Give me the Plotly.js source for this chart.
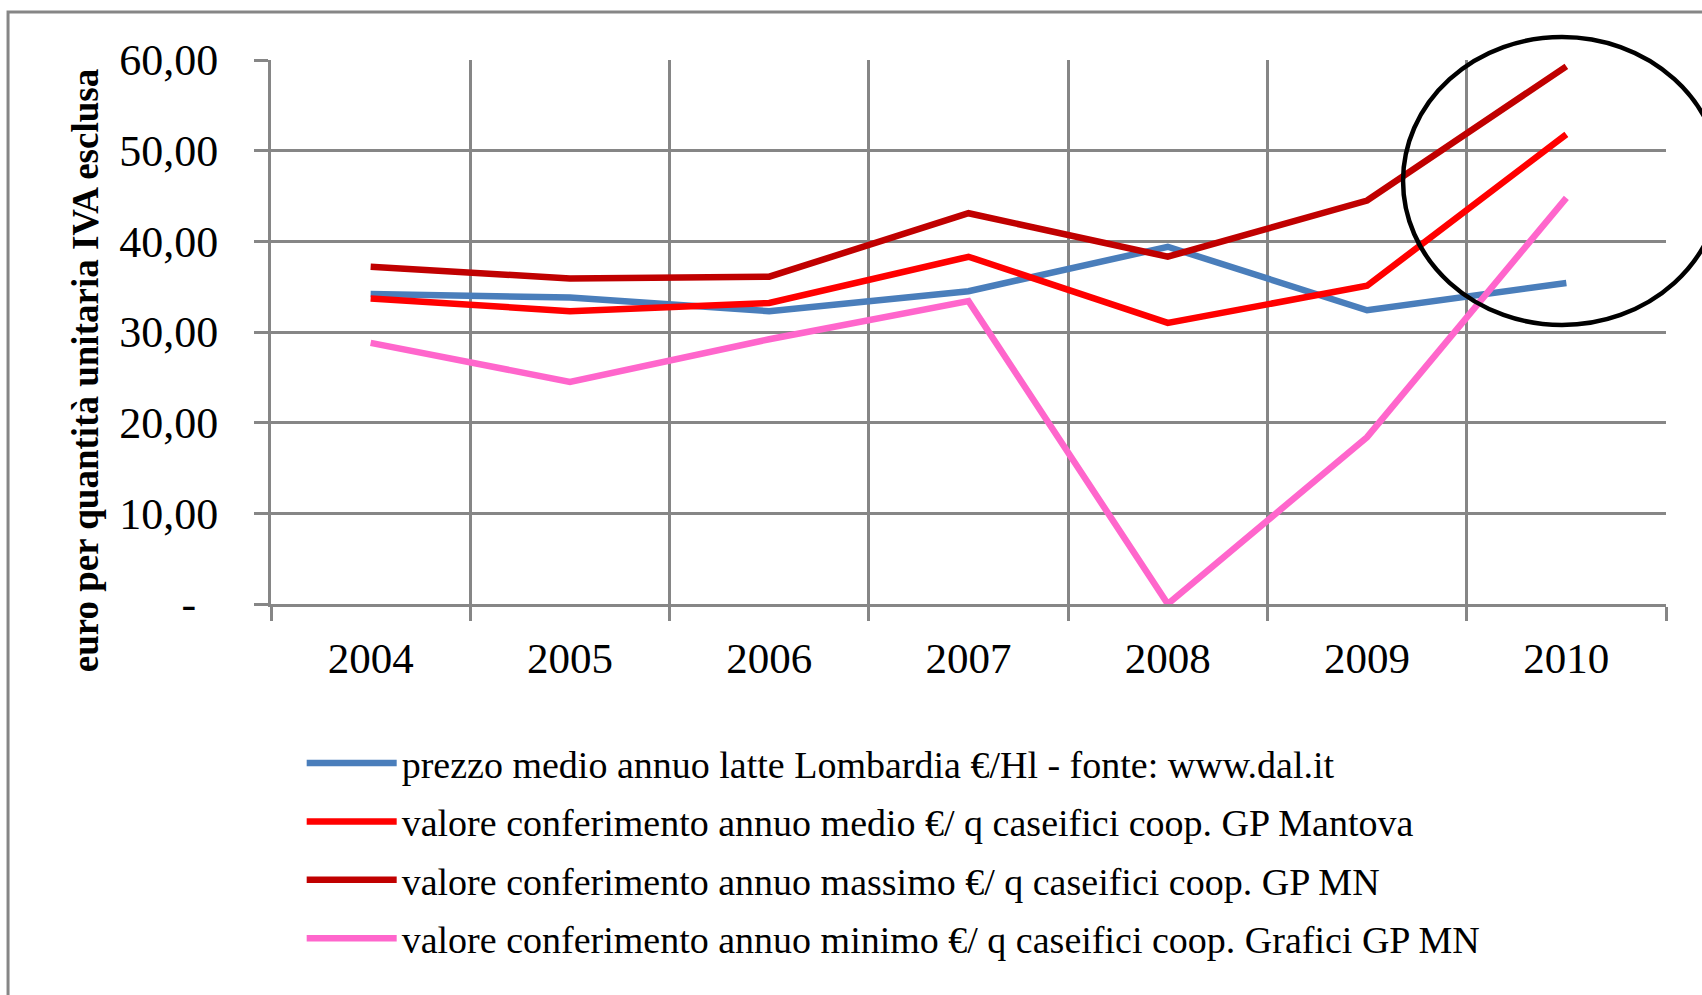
<!DOCTYPE html>
<html>
<head>
<meta charset="utf-8">
<script src="https://cdn.plot.ly/plotly-3.0.1.min.js"></script>
<style>
  html, body { margin: 0; padding: 0; background: #fff; }
  #chart { width: 1702px; height: 995px; }
</style>
</head>
<body>
<div id="chart"></div>
<script>
// ---- data ----
const years = ["2004", "2005", "2006", "2007", "2008", "2009", "2010"];
const prezzoMedioLatte = [34.2, 33.8, 32.3, 34.5, 39.4, 32.4, 35.4];
const conferimentoMedio = [33.7, 32.3, 33.2, 38.3, 31.0, 35.1, 51.8];
const conferimentoMassimo = [37.2, 35.9, 36.1, 43.1, 38.3, 44.5, 59.3];
const conferimentoMinimo = [28.8, 24.5, 29.2, 33.4, 0.0, 18.4, 44.8];

const seriesNames = [
  "prezzo medio annuo latte Lombardia €/Hl - fonte: www.dal.it",
  "valore conferimento annuo medio €/ q caseifici coop. GP Mantova",
  "valore conferimento annuo massimo €/ q caseifici coop. GP MN",
  "valore conferimento annuo minimo €/ q caseifici coop. Grafici GP MN"
];
const yTickVals = [0, 10, 20, 30, 40, 50, 60];
const yTickText = ["-\u00a0\u00a0", "10,00", "20,00", "30,00", "40,00", "50,00", "60,00"];
const yTitle = "euro per quantità unitaria IVA esclusa";

const colors = ["#4A7EBB", "#FF0000", "#C00000", "#FF66CC"];
const allSeries = [prezzoMedioLatte, conferimentoMedio, conferimentoMassimo, conferimentoMinimo];

const serif = "Liberation Serif, Times New Roman, serif";

const traces = allSeries.map((vals, i) => ({
  type: "scatter",
  mode: "lines",
  x: years,
  y: vals,
  name: seriesNames[i],
  legendgroup: "g" + i,
  line: { color: colors[i], width: 6.5 },
  hoverinfo: "x+y"
}));

const grid = "#868686";

const layout = {
  width: 1702,
  height: 995,
  margin: { l: 271, r: 36, t: 60, b: 391 },
  paper_bgcolor: "#ffffff",
  plot_bgcolor: "#ffffff",
  showlegend: true,
  font: { family: serif, color: "#000000" },
  xaxis: {
    type: "category",
    range: [-0.5, 6.5],
    tickson: "boundaries",
    showgrid: true,
    gridcolor: grid,
    gridwidth: 3,
    showline: true,
    linecolor: grid,
    linewidth: 3,
    ticks: "outside",
    ticklen: 14,
    tickwidth: 3,
    tickcolor: grid,
    tickfont: { family: serif, size: 43, color: "#000000" },
    ticklabelstandoff: 14,
    zeroline: false,
    fixedrange: true
  },
  yaxis: {
    range: [0, 60],
    tickvals: yTickVals,
    ticktext: yTickText,
    showgrid: true,
    gridcolor: grid,
    gridwidth: 3,
    showline: true,
    linecolor: grid,
    linewidth: 3,
    ticks: "outside",
    ticklen: 14,
    tickwidth: 3,
    tickcolor: grid,
    tickfont: { family: serif, size: 44, color: "#000000" },
    ticklabelstandoff: 27,
    zeroline: false,
    fixedrange: true
  },
  annotations: [
    {
      text: "<b>" + yTitle + "</b>",
      xref: "paper", yref: "paper",
      x: -0.1333, y: 0.428,
      xanchor: "center", yanchor: "middle",
      textangle: -90,
      showarrow: false,
      font: { family: serif, size: 37, color: "#000000" }
    }
  ],
  legend: {
    orientation: "v",
    x: 0.022,
    xanchor: "left",
    y: -0.235,
    yanchor: "top",
    font: { family: serif, size: 38, color: "#000000" },
    itemwidth: 90,
    tracegroupgap: 6,
    bgcolor: "rgba(0,0,0,0)",
    borderwidth: 0
  },
  shapes: [
    {
      type: "rect", xref: "paper", yref: "paper",
      x0: -0.1885, x1: 1.2, y0: -1.2, y1: 1.0882,
      line: { color: grid, width: 3 }, fillcolor: "rgba(0,0,0,0)", layer: "below"
    },
    {
      type: "circle", xref: "paper", yref: "paper",
      x0: 0.8115, x1: 1.0394, y0: 0.5129, y1: 1.0423,
      line: { color: "#000000", width: 4.5 }, fillcolor: "rgba(0,0,0,0)", layer: "above"
    }
  ]
};

Plotly.newPlot("chart", traces, layout, { displayModeBar: false, staticPlot: true });
</script>
</body>
</html>
